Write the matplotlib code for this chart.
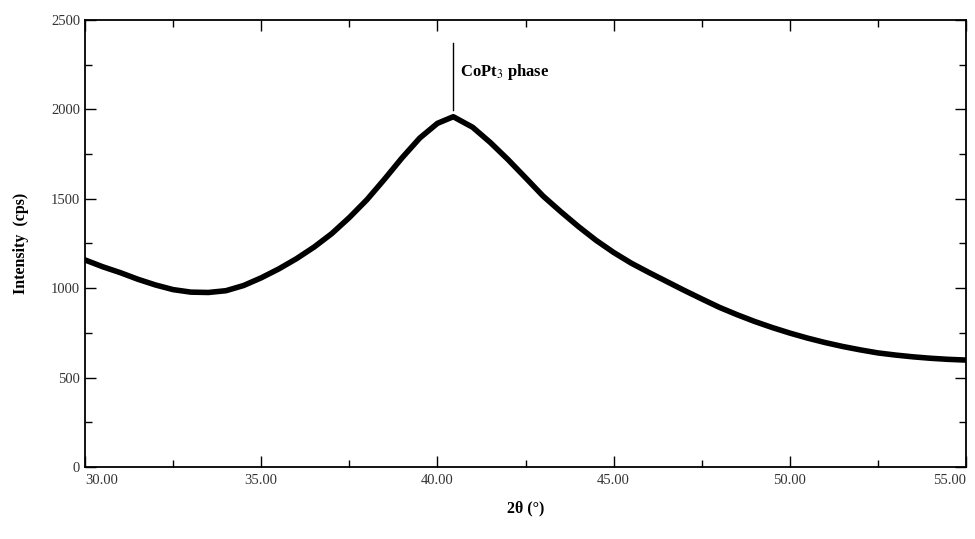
import numpy as np
import matplotlib
matplotlib.use("Agg")
import matplotlib.pyplot as plt
from matplotlib.ticker import MultipleLocator

# XRD scan (2theta in degrees, intensity in cps)
two_theta = [30.0, 30.5, 31.0, 31.5, 32.0, 32.5, 33.0, 33.5, 34.0, 34.5,
             35.0, 35.5, 36.0, 36.5, 37.0, 37.5, 38.0, 38.5, 39.0, 39.5,
             40.0, 40.45, 41.0, 41.5, 42.0, 42.5, 43.0, 43.5, 44.0, 44.5,
             45.0, 45.5, 46.0, 46.5, 47.0, 47.5, 48.0, 48.5, 49.0, 49.5,
             50.0, 50.5, 51.0, 51.5, 52.0, 52.5, 53.0, 53.5, 54.0, 54.5, 55.0]
intensity = [1158, 1120, 1087, 1050, 1018, 992, 978, 976, 986, 1015,
             1058, 1108, 1165, 1230, 1305, 1395, 1495, 1610, 1730, 1840,
             1922, 1959, 1900, 1815, 1720, 1618, 1515, 1428, 1345, 1268,
             1200, 1140, 1088, 1038, 988, 940, 893, 852, 814, 780,
             749, 721, 696, 674, 655, 638, 626, 616, 608, 602, 598]

x_ticks = [30, 35, 40, 45, 50, 55]
x_tick_labels = ['30.00', '35.00', '40.00', '45.00', '50.00', '55.00']

peak_pos = 40.45
peak_label = "CoPt$_3$ phase"

plt.rcParams['font.family'] = ['Liberation Serif', 'DejaVu Serif']
plt.rcParams['mathtext.fontset'] = 'stix'

fig = plt.figure(figsize=(9.75, 5.39), dpi=100)
ax = fig.add_axes([0.0872, 0.1336, 0.9036, 0.8293])

ax.plot(two_theta, intensity, color='black', linewidth=4.0, solid_joinstyle='round')

# peak marker
ax.plot([peak_pos, peak_pos], [1995, 2370], color='black', linewidth=1.0)
ax.text(peak_pos + 0.2, 2210, peak_label, fontsize=12, fontweight='bold',
        ha='left', va='center')

ax.set_xlim(30, 55)
ax.set_ylim(0, 2500)
ax.set_xticks(x_ticks, x_tick_labels)
ax.xaxis.set_minor_locator(MultipleLocator(2.5))
ax.yaxis.set_major_locator(MultipleLocator(500))
ax.yaxis.set_minor_locator(MultipleLocator(250))
ax.tick_params(which='both', direction='in', top=True, right=True,
               labelsize=10.5, labelcolor='#333333', width=1.0)
ax.tick_params(which='major', length=8)
ax.tick_params(which='minor', length=5)
ax.tick_params(axis='x', pad=5)
for s in ax.spines.values():
    s.set_linewidth(1.3)

xlabels = ax.get_xticklabels()
xlabels[0].set_horizontalalignment('left')
xlabels[-1].set_horizontalalignment('right')

ax.set_ylabel('Intensity  (cps)', fontsize=11.5, fontweight='bold', labelpad=16)
ax.set_xlabel('2θ (°)', fontsize=11.5, fontweight='bold', labelpad=10)

plt.savefig('out.png', dpi=100)
plt.close()
